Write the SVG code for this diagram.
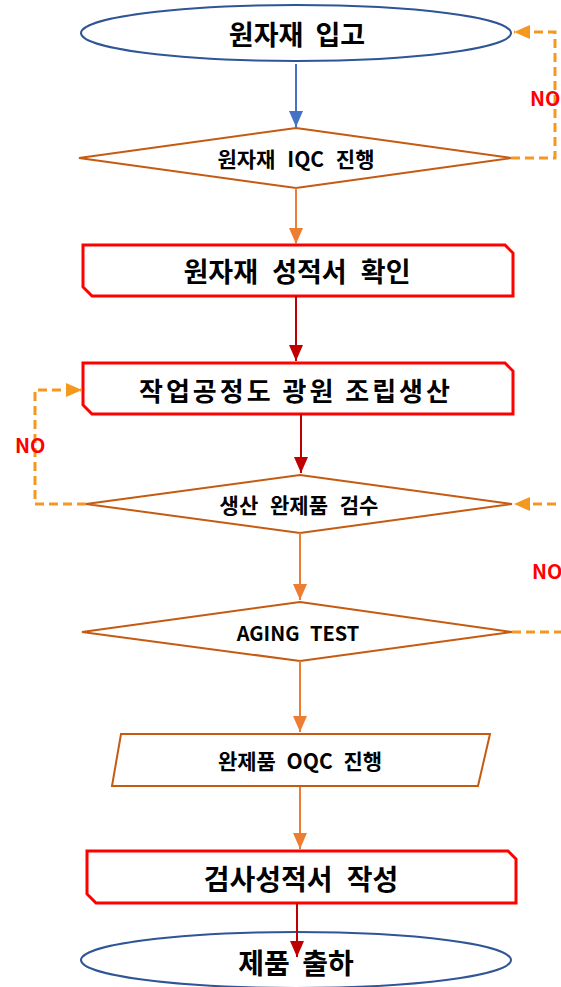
<svg xmlns="http://www.w3.org/2000/svg" width="561" height="987" viewBox="0 0 561 987">
<style>
text{font-family:"Noto Sans CJK KR","Noto Sans",sans-serif;font-weight:bold;fill:#000;text-anchor:middle;dominant-baseline:central}
.ell{fill:#fff;stroke:#2F5597;stroke-width:2}
.dia{fill:#fff;stroke:#C55A11;stroke-width:2}
.box{fill:#fff;stroke:#FF0000;stroke-width:3}
.blue{stroke:#4472C4;stroke-width:2;fill:none}
.org{stroke:#ED7D31;stroke-width:2;fill:none}
.red{stroke:#C00000;stroke-width:2;fill:none}
.dash{stroke:#F5981F;stroke-width:3;fill:none;stroke-dasharray:9 5}
.no{fill:#FF0000;text-anchor:start;dominant-baseline:alphabetic;font-size:20px}
</style>
<defs>
<marker id="aBlue" markerUnits="userSpaceOnUse" markerWidth="16" markerHeight="14" refX="16" refY="7" orient="auto"><path d="M0,0 L16,7 L0,14 Z" fill="#4472C4"/></marker>
<marker id="aOrg" markerUnits="userSpaceOnUse" markerWidth="16" markerHeight="14" refX="16" refY="7" orient="auto"><path d="M0,0 L16,7 L0,14 Z" fill="#ED7D31"/></marker>
<marker id="aRed" markerUnits="userSpaceOnUse" markerWidth="16" markerHeight="14" refX="16" refY="7" orient="auto"><path d="M0,0 L16,7 L0,14 Z" fill="#C00000"/></marker>
<marker id="aDash" markerUnits="userSpaceOnUse" markerWidth="16" markerHeight="14" refX="16" refY="7" orient="auto"><path d="M0,0 L16,7 L0,14 Z" fill="#F5981F"/></marker>
</defs>

<g id="n1"><ellipse class="ell" cx="296" cy="33" rx="215" ry="28"/><text x="297" y="33" font-size="27" word-spacing="6">원자재 입고</text></g>
<g id="n2"><polygon class="dia" points="296,128 511,158 296,188 79,158"/><text x="296" y="158" font-size="21" word-spacing="7">원자재 IQC 진행</text></g>
<g id="n3"><path class="box" d="M83,245 H505 L513,253 V296 H92 L83,287 Z"/><text x="297" y="270" font-size="27" word-spacing="8">원자재 성적서 확인</text></g>
<g id="n4"><path class="box" d="M83,363 H505 L513,371 V414 H92 L83,405 Z"/><text x="296" y="389" font-size="26" letter-spacing="3">작업공정도 광원 조립생산</text></g>
<g id="n5"><polygon class="dia" points="300,475 512,504 300,533 86,504"/><text x="299" y="504" font-size="21" word-spacing="7">생산 완제품 검수</text></g>
<g id="n6"><polygon class="dia" points="300,602 512,632 300,661 82,632"/><text x="298" y="632" font-size="20" word-spacing="6">AGING TEST</text></g>
<g id="n7"><polygon class="dia" points="121,734 490,734 478,786 112,786"/><text x="300" y="760" font-size="21" word-spacing="6">완제품 OQC 진행</text></g>
<g id="n8"><path class="box" d="M87,851 H508 L516,859 V903 H96 L87,894 Z"/><text x="301" y="878" font-size="28" word-spacing="8">검사성적서 작성</text></g>
<g id="n9"><ellipse class="ell" cx="296" cy="960" rx="215" ry="28"/><text x="296" y="962" font-size="28" word-spacing="6">제품 출하</text></g>

<g id="connectors">
<line class="blue" x1="296" y1="64" x2="296" y2="127" marker-end="url(#aBlue)"/>
<line class="org" x1="296" y1="188" x2="296" y2="244" marker-end="url(#aOrg)"/>
<line class="red" x1="296" y1="296" x2="296" y2="361" marker-end="url(#aRed)"/>
<line class="red" x1="301" y1="414" x2="301" y2="473" marker-end="url(#aRed)"/>
<line class="org" x1="300" y1="533" x2="300" y2="600" marker-end="url(#aOrg)"/>
<line class="org" x1="300" y1="661" x2="300" y2="732" marker-end="url(#aOrg)"/>
<line class="org" x1="300" y1="787" x2="300" y2="849" marker-end="url(#aOrg)"/>
<line class="red" x1="297" y1="903" x2="297" y2="957" marker-end="url(#aRed)"/>
<path class="dash" d="M511,158 H555 V32 H514" marker-end="url(#aDash)"/>
<path class="dash" d="M86,504 H35 V390 H82" marker-end="url(#aDash)"/>
<path class="dash" d="M512,632 H575 V504 H514" marker-end="url(#aDash)"/>
<text class="no" x="530" y="106">NO</text>
<text class="no" x="15" y="453">NO</text>
<text class="no" x="532" y="579">NO</text>
</g>
</svg>
